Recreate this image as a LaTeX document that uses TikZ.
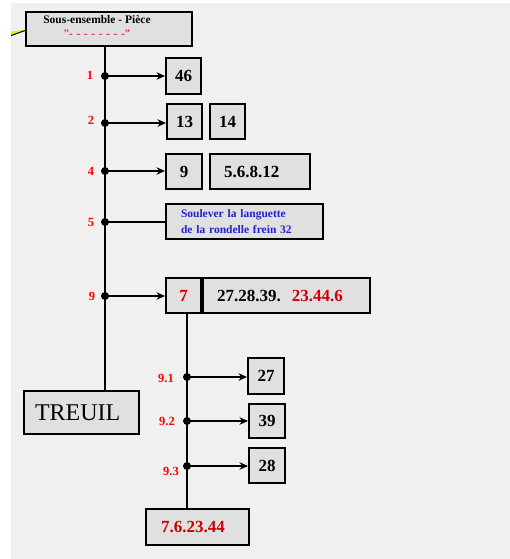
\documentclass[tikz,border=0pt]{standalone}
\usepackage{fontspec}
\setmainfont{Liberation Serif}
\usetikzlibrary{arrows.meta}
\definecolor{fondgris}{HTML}{F0F0F0}
\definecolor{boitegris}{HTML}{E0E0E0}
\definecolor{rougenum}{HTML}{FF0000}
\definecolor{rougefonce}{HTML}{CC0000}
\definecolor{bleutxt}{HTML}{2222CC}
\definecolor{jaunevert}{HTML}{CCFF00}
\newcommand{\tiret}{-\hspace{3.6pt}}
\begin{document}
\begin{tikzpicture}[x=1pt,y=-1pt,
  boite/.style={draw=black,line width=2pt,fill=boitegris,inner sep=0pt,font=\fontsize{17}{20}\selectfont\bfseries},
  num/.style={text=rougenum,font=\fontsize{12.5}{14}\selectfont\bfseries,inner sep=0pt},
  lien/.style={line width=2pt},
  fleche/.style={lien,-{Stealth[length=8.5pt,width=7.5pt]}},
  point/.style={circle,fill=black,inner sep=0pt,minimum size=8pt}]
 \useasboundingbox (0,0) rectangle (510,559);
 \fill[white] (0,0) rectangle (510,559);
 \fill[fondgris] (11,3) rectangle (510,559);
 % fleche jaune (coupee)
 \fill[jaunevert] (11,31.5) -- (28,29.5) -- (11,35.5) -- cycle;
 \draw[line width=1pt] (11,35.5) -- (28,29.5);
 % boites
 \node[boite,minimum width=166pt,minimum height=34pt] (top) at (109,29) {};
 \node[align=center,inner sep=0pt,font=\fontsize{11.5}{14}\selectfont\bfseries] (toptxt) at (97,27)
   {Sous-ensemble - Pièce\\\textcolor{rougenum}{\mdseries "\tiret\tiret\tiret\tiret\tiret\tiret\tiret-"}};
 \node[boite,minimum width=35pt,minimum height=36pt] (b46) at (183.5,76) {46};
 \node[boite,minimum width=35pt,minimum height=35pt] (b13) at (184.5,121.5) {13};
 \node[boite,minimum width=35pt,minimum height=35pt] (b14) at (227.5,121.5) {14};
 \node[boite,minimum width=36pt,minimum height=35pt] (b9) at (184,171.5) {9};
 \node[boite,minimum width=100pt,minimum height=35pt,text width=72pt,inner xsep=14pt,align=left] (b5612) at (260,171.5) {5.6.8.12};
 \node[boite,minimum width=157pt,minimum height=35pt,text width=127pt,inner xsep=15pt,align=left,
   text=bleutxt,font=\fontsize{11.5}{16}\selectfont\bfseries] (bsoul) at (244.5,221.5)
   {Soulever la languette\\de la rondelle frein 32};
 \node[boite,minimum width=35pt,minimum height=35pt,text=rougefonce] (b7) at (183.5,295.5) {7};
 \node[boite,minimum width=167pt,minimum height=35pt,text width=139pt,inner xsep=14pt,align=left] (b2728) at (286.5,295.5)
   {27.28.39.\hspace{11pt}\textcolor{rougefonce}{23.44.6}};
 \node[boite,minimum width=36pt,minimum height=36pt] (b27) at (266,376) {27};
 \node[boite,minimum width=36pt,minimum height=34pt] (b39) at (267,421) {39};
 \node[boite,minimum width=36pt,minimum height=35pt] (b28) at (267,465.5) {28};
 \node[boite,minimum width=115pt,minimum height=43pt,text width=93pt,inner xsep=11pt,align=left,
   font=\fontsize{24}{26}\selectfont] (treuil) at (81.5,412.5) {TREUIL};
 \node[boite,minimum width=103pt,minimum height=36pt,text width=73pt,inner xsep=15pt,align=left,
   text=rougefonce] (b7623) at (197.5,527) {7.6.23.44};
 % points de branchement
 \coordinate (d1) at (105,76);
 \coordinate (d2) at (105,123);
 \coordinate (d4) at (105,171);
 \coordinate (d5) at (105,222);
 \coordinate (d9) at (105,296);
 \coordinate (d91) at (187,377);
 \coordinate (d92) at (187,421);
 \coordinate (d93) at (187,466);
 % traits
 \draw[lien] (d1 |- top.south) -- (d1 |- treuil.north);
 \draw[lien] (d91 |- b7.south) -- (d91 |- b7623.north);
 \draw[fleche] (d1) -- (d1 -| b46.west);
 \draw[fleche] (d2) -- (d2 -| b13.west);
 \draw[fleche] (d4) -- (d4 -| b9.west);
 \draw[lien] (d5) -- (d5 -| bsoul.west);
 \draw[fleche] (d9) -- (d9 -| b7.west);
 \draw[fleche] (d91) -- (d91 -| b27.west);
 \draw[fleche] (d92) -- (d92 -| b39.west);
 \draw[fleche] (d93) -- (d93 -| b28.west);
 \foreach \p in {d1,d2,d4,d5,d9,d91,d92,d93}
   \node[point] at (\p) {};
 % numeros
 \node[num] (n1) at (90,75) {1};
 \node[num] (n2) at (91,120) {2};
 \node[num] (n4) at (91,171) {4};
 \node[num] (n5) at (91,222) {5};
 \node[num] (n9) at (92,296) {9};
 \node[num] (n91) at (166,378) {9.1};
 \node[num] (n92) at (167,421) {9.2};
 \node[num] (n93) at (171,471) {9.3};
\end{tikzpicture}
\end{document}
